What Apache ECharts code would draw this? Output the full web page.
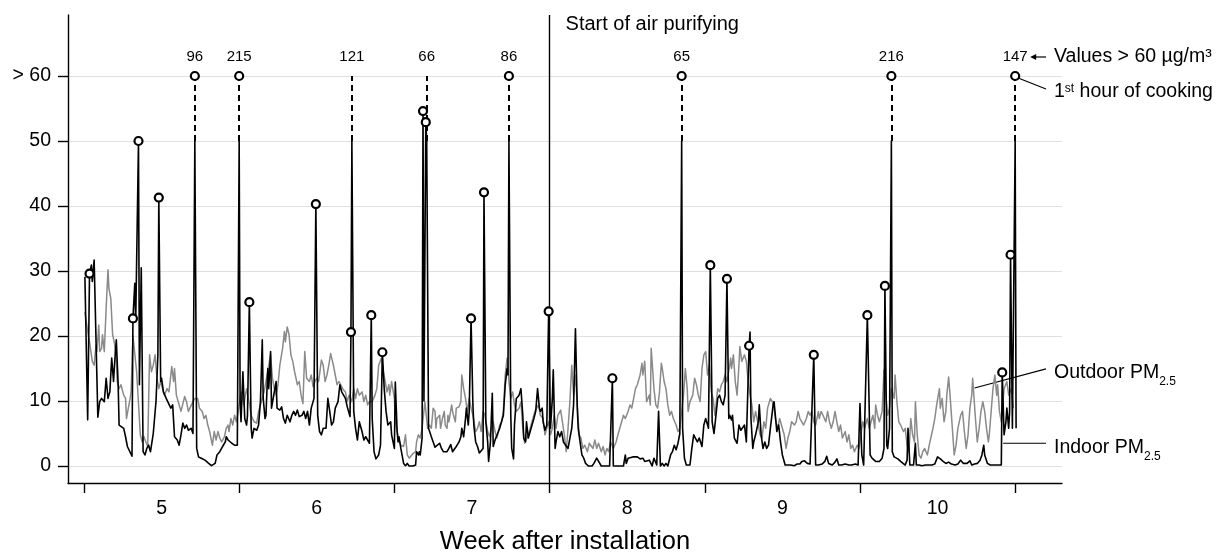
<!DOCTYPE html>
<html><head><meta charset="utf-8">
<script src="https://cdn.jsdelivr.net/npm/echarts@6/dist/echarts.min.js"></script>
<style>html,body{margin:0;padding:0;background:#fff}#c{width:1225px;height:552px}</style>
</head><body><div id="c"></div>
<script>
// x unit: hours since the start of week 5
const weekLabels = [5, 6, 7, 8, 9, 10];
const weekBoundaryHours = [0, 168, 336, 504, 672, 840, 1008];
const yTickValues = [0, 10, 20, 30, 40, 50, 60];
const purifierStartHour = 504;

// indoor PM2.5 [hour, µg/m³] (true values; >60 drawn on the broken scale)
const indoorPM25 = [
[1,29.1],[4,7.1],[6,29.6],[8,30.9],[9,28.4],[11,31.7],[15,7.5],[17,9.9],[19,10.4],[22,9.9],[24,13.5],[26,10.4],[28,11.4],[30,16.6],[32,13],[33,15.5],[35,19.4],[37,12.5],[38,6.3],[40,6.6],[43,5.8],[45,4.5],[47,3.0],[49,3.3],[52,1.5],[53,22.7],[55,28.1],[56,22.2],[59,50],[60,12.5],[62,30.5],[64,2.2],[66,1.7],[68,2.7],[70,3.2],[72,2.2],[75,5],[78,10],[80,17],[81,41.3],[83,13],[84,13.5],[86,11.4],[89,10.4],[91,10.7],[94,8.9],[96,9.4],[98,4.5],[101,4.0],[103,3.2],[105,4.8],[107,6.6],[109,5.8],[111,6.3],[113,5.5],[116,5.8],[118,5.0],[120,96],[122,2.7],[124,1.4],[127,1.2],[131,0.9],[135,0.4],[138,0.05],[142,0.4],[144,1.7],[147,2.2],[150,3.0],[153,3.7],[154,4.5],[156,4.0],[160,3.5],[163,3.2],[166,3.2],[168,215],[169,9.9],[170,6.8],[172,14.5],[174,7.3],[176,6.3],[177,7.8],[179,25.2],[181,5.8],[182,4.3],[184,5.8],[187,5.5],[189,6.3],[191,9.9],[193,19.4],[194,10.4],[196,7.3],[197,7.8],[199,15.0],[200,11.9],[202,17.6],[203,8.9],[205,8.9],[208,13.0],[209,8.9],[212,8.6],[214,9.1],[216,7.3],[218,6.6],[220,7.8],[223,6.8],[225,7.8],[227,8.4],[229,7.8],[231,8.6],[233,7.6],[236,7.8],[238,8.4],[240,7.3],[242,8.4],[244,6.3],[246,8.9],[249,10.4],[251,40.3],[253,7.8],[255,5.3],[257,4.8],[259,5.8],[262,5.8],[264,10.4],[266,8.4],[268,6.3],[270,6.8],[272,8.9],[275,9.9],[277,12.5],[279,11.4],[281,11.4],[283,10.4],[285,9.1],[288,7.6],[289,20.6],[290,121],[292,8.4],[294,5.8],[296,4.0],[298,6.8],[301,5.3],[303,4.0],[305,4.5],[307,4.0],[309,3.5],[311,23.2],[312,7.3],[314,2.2],[316,1.1],[319,1.7],[321,3.2],[323,17.5],[325,11.9],[327,8.4],[329,6.3],[332,6.8],[333,4.8],[336,2.7],[337,12.9],[339,5.3],[340,3.7],[341,4.5],[343,2.7],[346,0.4],[348,0.05],[350,0.4],[352,0],[354,0],[356,0],[359,0.15],[360,2.2],[362,1.7],[363,2.2],[364,1.7],[366,4.3],[367,54.6],[368,10],[370,52.9],[371,66],[373,5.8],[376,4.5],[378,3.7],[380,2.9],[382,2.7],[385,3.5],[387,2.7],[389,2.2],[391,2.1],[393,2.2],[395,2.7],[397,3.3],[399,2.2],[401,2.5],[403,3.0],[406,3.7],[408,4.5],[409,5.8],[411,4.5],[413,7.3],[414,8.9],[416,6.3],[417,8.4],[419,22.7],[421,9.4],[422,6.3],[424,3.7],[426,3.0],[428,2.0],[430,2.2],[432,2.7],[433,42.1],[435,6.8],[437,3.7],[438,0.7],[440,3.7],[442,11.2],[443,3.0],[445,4.0],[447,4.3],[450,5.8],[452,5.8],[454,7.8],[456,12.5],[458,15.0],[459,14.0],[460,86],[462,7.8],[463,2.7],[465,1.1],[466,6.3],[468,10.4],[471,10.9],[473,11.9],[475,7.8],[476,4.3],[478,3.7],[479,6.8],[481,4.3],[483,5.3],[485,6.3],[487,7.3],[489,8.4],[491,11.9],[493,8.9],[494,8.4],[496,8.9],[497,6.8],[499,5.5],[501,6.3],[503,23.8],[505,5.8],[507,10.4],[508,14.8],[510,2.7],[511,3.7],[513,5.3],[515,4.5],[517,5.3],[519,3.7],[521,3.5],[524,2.7],[526,4.3],[528,5.8],[530,9.4],[532,21.1],[534,8.9],[535,5.8],[537,5.8],[539,1.7],[541,1.2],[543,0.4],[546,0],[550,0],[552,0.4],[555,1.2],[557,1.2],[560,0],[563,0],[566,0],[569,0],[571,0],[572,13.5],[573,0],[577,0],[580,0],[584,0],[586,1.7],[587,0.4],[589,1.2],[591,0.9],[594,1.4],[596,1.2],[599,1.4],[602,1.1],[605,1.2],[607,0.7],[609,0.4],[612,0.9],[615,0],[617,1.2],[620,0.15],[622,8.4],[624,0],[626,0.4],[628,0],[630,0.4],[632,0],[635,1.7],[637,2.2],[639,3.2],[641,2.5],[643,3.5],[645,5.0],[647,65],[648,5.8],[650,1.2],[652,0.15],[654,0],[656,0.15],[658,2.7],[660,4.8],[662,4.8],[664,3.7],[666,4.3],[669,3.0],[671,6.3],[673,7.3],[676,5.8],[678,30.9],[680,6.8],[682,5.0],[683,6.3],[686,10.4],[688,10.9],[690,9.9],[692,9.4],[694,10.9],[696,28.8],[698,7.3],[699,7.8],[701,7.1],[702,7.8],[704,4.3],[707,3.5],[709,6.3],[711,5.5],[713,5.3],[715,6.3],[717,3.7],[719,3.5],[720,18.5],[721,20.6],[722,7.3],[724,2.7],[725,3.7],[727,4.8],[730,6.8],[731,9.4],[733,4.8],[735,2.7],[737,3.7],[739,2.7],[741,3.2],[743,5.8],[746,9.4],[747,9.9],[748,8.4],[750,5.3],[752,6.3],[754,3.7],[756,1.7],[759,0.15],[761,0],[765,0.15],[769,0.05],[772,0.3],[775,0.3],[777,0.7],[780,0.8],[783,0.4],[786,0.3],[788,0.15],[790,17.1],[792,0.15],[795,0.15],[799,0.3],[802,0.7],[804,1.5],[806,0.4],[810,0.15],[813,0.6],[815,1.1],[817,0.15],[820,0.15],[824,0.3],[828,0.15],[831,0.15],[835,0.3],[838,0.15],[839,0.4],[840,9.6],[842,1.7],[844,0.15],[846,0.15],[848,23.2],[851,1.7],[853,1.2],[855,0.9],[857,0.7],[859,0.4],[861,0.7],[864,1.2],[866,2.7],[867,27.7],[869,3.2],[870,2.7],[872,5.8],[874,216],[875,2.2],[877,1.4],[879,1.2],[881,1.1],[884,0.7],[886,0.4],[889,0.15],[891,0.9],[892,5.8],[894,0.15],[896,0.4],[898,0.15],[900,3.5],[901,0.15],[904,0.15],[907,0.05],[911,0.15],[915,0.15],[918,0.15],[921,0.3],[924,1.4],[927,1.1],[930,0.7],[933,0.4],[936,0.6],[939,0.3],[943,0.15],[946,0.3],[949,0.9],[952,0.4],[954,0.15],[956,0.4],[959,0.8],[961,0.15],[964,0.3],[967,0.4],[970,0.9],[972,1.7],[974,3.2],[975,1.7],[978,0.4],[981,0.15],[985,0.15],[989,0.15],[993,0.15],[994,14.4],[996,4.8],[998,6.8],[999,8.9],[1001,5.8],[1002,8.4],[1003,32.5],[1005,5.8],[1008,147],[1009,5.8]
];

// outdoor PM2.5 [hour, µg/m³]
const outdoorPM25 = [
[1,23.7],[4,20.7],[6,19.1],[9,16.1],[11,15.5],[13,18.6],[14,17.6],[16,21.7],[17,17.6],[19,18.1],[20,20.2],[22,17.6],[24,24.3],[26,30.2],[27,27.3],[29,25.8],[31,20.2],[33,18.9],[35,16.1],[36,13.0],[38,11.9],[40,12.5],[43,10.9],[45,10.4],[46,7.3],[48,8.9],[50,10.4],[51,11.4],[53,20],[57,14.5],[61,4.8],[63,3.7],[65,4.5],[67,3.7],[69,3.0],[71,17.1],[73,14.5],[75,15.5],[77,17.1],[79,13.5],[81,11.9],[83,13.0],[85,11.9],[87,10.9],[90,11.9],[92,11.4],[94,14.0],[95,15.3],[97,13.0],[98,15.0],[100,10.9],[102,9.9],[105,8.4],[107,8.4],[109,10.7],[111,9.9],[113,8.4],[115,8.4],[118,9.9],[120,10.4],[123,10.4],[125,8.9],[128,8.4],[130,7.3],[132,7.8],[134,6.3],[136,5.3],[139,3.2],[141,5.3],[143,4.0],[145,5.3],[147,4.3],[149,3.7],[152,4.5],[154,5.8],[156,6.3],[157,5.3],[159,7.3],[161,6.3],[163,7.8],[165,6.8],[167,8.4],[170,11.4],[173,9.4],[176,11.9],[178,10.4],[181,7.8],[184,6.8],[187,6.6],[189,8.4],[192,9.9],[195,11.4],[197,13.0],[200,15.5],[202,17.1],[204,13.5],[206,11.9],[208,10.9],[210,12.5],[212,15.5],[215,18.1],[217,20.7],[218,19.1],[220,21.4],[222,20.2],[224,17.1],[226,16.1],[228,14.5],[231,12.5],[233,13.0],[235,10.9],[237,9.6],[239,17.6],[241,13.5],[244,13.0],[246,14.0],[248,12.2],[250,13.0],[252,13.5],[254,13.0],[257,16.3],[259,15.5],[261,13.0],[263,14.0],[265,15.5],[267,17.3],[270,15.5],[272,14.0],[274,12.5],[276,13.0],[278,12.5],[280,11.9],[283,11.4],[285,9.9],[287,10.9],[290,9.9],[292,11.9],[294,10.4],[296,11.9],[298,10.9],[301,11.4],[303,9.9],[305,10.9],[307,9.4],[309,9.9],[312,9.9],[315,10.9],[317,11.9],[319,15.5],[322,16.6],[324,14.5],[326,13.0],[328,11.4],[330,12.5],[331,10.9],[333,13.0],[336,10.4],[337,6.8],[339,5.3],[341,4.0],[343,3.2],[346,3.0],[348,4.8],[350,1.7],[352,1.2],[354,1.4],[356,1.9],[359,2.2],[360,3.7],[362,4.8],[364,4.3],[366,5.8],[369,9.9],[372,5.8],[374,6.3],[376,5.8],[378,8.9],[380,8.4],[381,5.8],[382,7.3],[385,7.8],[386,5.8],[388,7.3],[390,8.4],[391,6.3],[393,5.8],[394,7.8],[395,6.8],[398,9.4],[399,8.4],[400,7.8],[402,6.8],[403,8.9],[406,9.1],[408,9.9],[409,14.0],[411,11.9],[413,10.4],[415,8.4],[417,10.4],[419,8.9],[421,7.8],[424,5.3],[426,5.8],[428,6.8],[430,5.3],[432,8.4],[434,7.8],[437,5.3],[439,4.5],[441,5.8],[443,6.8],[445,5.3],[447,4.3],[450,6.3],[452,6.8],[454,8.4],[456,14.0],[458,16.6],[460,13.0],[462,10.4],[464,11.4],[466,9.4],[468,8.4],[471,8.9],[473,9.9],[475,5.8],[477,3.5],[479,3.7],[481,4.8],[484,6.3],[486,7.3],[488,8.4],[490,8.4],[492,9.4],[494,7.8],[497,7.3],[499,4.8],[501,5.8],[503,6.8],[505,4.8],[507,5.8],[509,7.8],[511,5.8],[513,7.8],[516,8.6],[518,8.4],[520,4.8],[522,2.2],[524,5.8],[526,9.9],[528,15.5],[530,10.9],[532,14.0],[534,9.4],[536,4.8],[538,4.3],[540,2.7],[542,3.2],[545,2.2],[547,3.5],[549,3.7],[551,2.7],[553,4.0],[555,2.7],[557,3.5],[560,2.2],[562,3.0],[564,1.7],[566,2.7],[568,2.2],[570,3.7],[573,2.7],[576,3.7],[578,4.8],[580,5.8],[582,6.8],[584,7.8],[586,7.3],[589,8.4],[591,9.4],[593,8.9],[595,10.4],[597,11.9],[599,12.5],[602,14.0],[604,15.8],[605,14.0],[607,16.1],[608,13.0],[609,9.9],[612,10.9],[613,9.4],[614,18.1],[617,11.9],[619,9.4],[621,8.9],[623,11.4],[625,15.8],[626,15.0],[628,13.0],[630,11.9],[632,9.4],[634,7.8],[636,8.4],[638,7.3],[641,6.3],[643,5.3],[645,5.8],[647,8.4],[649,10.9],[651,15.0],[653,11.9],[654,8.4],[656,9.9],[659,10.9],[661,13.5],[663,12.5],[665,10.9],[667,9.9],[669,15.0],[671,17.1],[673,17.6],[675,14.0],[677,15.5],[679,11.4],[681,10.4],[683,7.8],[686,11.9],[688,11.4],[690,12.5],[692,13.0],[694,14.0],[696,13.0],[699,15.5],[700,16.6],[701,15.0],[703,17.1],[705,13.0],[707,10.9],[709,15.5],[710,18.4],[712,16.1],[715,17.1],[717,16.1],[719,13.0],[721,10.9],[723,9.4],[725,6.8],[727,8.4],[730,6.3],[732,4.8],[734,4.3],[736,6.8],[738,5.8],[740,8.9],[743,10.4],[745,9.9],[747,8.9],[749,6.8],[751,5.8],[753,7.3],[756,5.8],[758,4.8],[760,2.7],[762,4.3],[764,5.3],[766,6.8],[769,6.3],[771,6.8],[773,8.4],[775,7.3],[777,6.8],[779,6.3],[782,7.3],[784,8.4],[786,7.8],[788,8.4],[790,6.8],[792,6.3],[795,8.4],[796,7.3],[798,8.4],[800,7.8],[803,6.8],[805,8.4],[807,6.8],[809,5.8],[811,6.8],[813,8.4],[815,6.8],[817,5.3],[819,6.3],[821,4.3],[824,5.3],[826,3.7],[828,4.8],[830,2.7],[832,3.2],[834,2.2],[837,3.2],[839,2.7],[841,4.8],[843,6.8],[845,5.8],[848,7.3],[850,5.8],[852,6.8],[854,7.8],[856,5.8],[857,9.4],[859,7.8],[861,6.8],[864,8.4],[866,14.8],[868,10.9],[870,7.8],[872,8.9],[874,11.9],[877,10.4],[878,14.0],[880,9.9],[882,6.8],[884,6.3],[887,5.3],[889,5.8],[891,3.2],[893,2.2],[895,7.3],[897,4.8],[899,3.7],[900,9.9],[902,4.8],[904,1.7],[906,1.2],[908,2.2],[910,2.7],[913,1.7],[915,3.2],[917,4.5],[919,5.8],[921,7.3],[923,9.4],[926,11.9],[927,8.9],[929,10.4],[931,6.8],[933,8.4],[934,10.9],[936,13.7],[938,9.9],[940,5.8],[942,1.7],[944,3.2],[946,5.8],[949,7.8],[951,8.4],[953,5.3],[955,2.7],[957,4.8],[959,8.9],[961,10.9],[962,13.5],[965,7.3],[967,3.7],[969,5.8],[971,8.4],[973,9.9],[975,8.4],[977,5.8],[979,3.7],[980,4.8],[982,8.4],[984,11.9],[986,14.0],[988,10.9],[989,12.5],[991,8.4],[993,6.8],[996,11.9],[999,13.0],[1001,10.9],[1004,11.9],[1006,8.9]
];

// hours that are the 1st hour of cooking
const cookingStartHours = [6,53,59,81,120,168,179,251,289,311,323,367,370,419,433,460,503,572,647,678,696,720,790,848,867,874,994,1003,1008];

const CAP = 60;      // values above are shown at "> 60"
const BREAK = 50;    // solid part ends here, dashed from BREAK to CAP

const FONT = '"Liberation Sans", Arial, Helvetica, sans-serif';
const indoorMap = new Map(indoorPM25.map(d => [d[0], d[1]]));
const indoorDrawn = indoorPM25.map(([h, v]) => [h, v > CAP ? BREAK : v]);
const over60 = indoorPM25.filter(d => d[1] > CAP);
const cookingPts = cookingStartHours.map(h => [h, Math.min(indoorMap.get(h), CAP)]);
const weekLabelHours = weekBoundaryHours.slice(0, -1).map((h, i) => (h + weekBoundaryHours[i + 1]) / 2);

const chart = echarts.init(document.getElementById('c'), null, { renderer: 'canvas' });
const option = {
  animation: false,
  backgroundColor: '#fff',
  textStyle: { fontFamily: FONT, color: '#000' },
  grid: { left: 68, right: 163, top: 15, bottom: 69, containLabel: false, outerBoundsMode: 'none' },
  xAxis: {
    type: 'value', min: -17.3, max: 1058.7,
    axisLine: { show: true, onZero: false, lineStyle: { color: '#000', width: 1.4 } },
    axisTick: { show: true, length: 10, customValues: weekBoundaryHours, lineStyle: { color: '#000', width: 1.4 } },
    axisLabel: { customValues: weekLabelHours, margin: 16, fontSize: 19.5, color: '#000', fontFamily: FONT,
      formatter: v => String(weekLabels[weekLabelHours.indexOf(v)]) },
    splitLine: { show: false },
    name: 'Week after installation', nameLocation: 'middle', nameGap: 46,
    nameTextStyle: { fontSize: 25.5, color: '#000', fontFamily: FONT }
  },
  yAxis: {
    type: 'value', min: -2.615, max: 69.385,
    axisLine: { show: true, onZero: false, lineStyle: { color: '#000', width: 1.4 } },
    axisTick: { show: true, length: 10, customValues: yTickValues, lineStyle: { color: '#000', width: 1.4 } },
    axisLabel: { customValues: yTickValues, margin: 17, fontSize: 19.5, color: '#000', fontFamily: FONT,
      formatter: v => (v === CAP ? '> ' + v : String(v)) },
    splitLine: { show: true, lineStyle: { color: '#e0e0e0', width: 1 } }
  },
  series: [
    {
      name: 'Outdoor PM2.5', type: 'line', data: outdoorPM25, showSymbol: false, z: 2,
      lineStyle: { color: '#8a8a8a', width: 1.5, join: 'round' },
      markLine: { silent: true, symbol: ['none', 'none'], label: { show: false },
        lineStyle: { color: '#000', width: 1.4, type: 'solid' },
        data: [{ xAxis: purifierStartHour }] }
    },
    {
      name: 'Indoor PM2.5', type: 'line', data: indoorDrawn, showSymbol: false, z: 3,
      lineStyle: { color: '#000', width: 1.6, join: 'round' },
      markLine: { silent: true, symbol: ['none', 'none'], label: { show: false },
        lineStyle: { color: '#000', width: 2, type: [6, 4] },
        data: over60.map(([h]) => [{ coord: [h, BREAK] }, { coord: [h, CAP] }]) }
    },
    {
      name: '1st hour of cooking', type: 'scatter', data: cookingPts, z: 5,
      symbol: 'circle', symbolSize: 8,
      itemStyle: { color: '#fff', borderColor: '#000', borderWidth: 2.2, opacity: 1 }
    },
    {
      name: 'Values > 60', type: 'scatter', data: over60.map(([h, v]) => [h, CAP, v]), z: 6,
      symbol: 'circle', symbolSize: 1, itemStyle: { color: 'rgba(0,0,0,0)' },
      label: { show: true, position: 'top', distance: 11, fontSize: 15, color: '#000', opacity: 1,
        textBorderWidth: 0, fontFamily: FONT, formatter: p => String(p.value[2]) }
    }
  ]
};
chart.setOption(option);

// annotations anchored to data coordinates
const P = (h, v) => chart.convertToPixel({ gridIndex: 0 }, [h, v]);
const gridRight = P(option.xAxis.max, 0)[0];
const lineEndX = gridRight - 16;
const textX = gridRight - 8;
const capY = P(0, CAP)[1];
const labelY = capY - 19;
const lastPeak = over60[over60.length - 1];
const lastPeakPx = P(lastPeak[0], CAP);
const outdoorAnchor = P(964, 12);
const outdoorLabelY = P(0, 14.8)[1];
const indoorAnchor = P(995, 3.5);
const indoorLabelY = P(0, 3.2)[1];
const lineStyle = { stroke: '#000', lineWidth: 1.2 };
const txt = (x, y, text, size, rich) => ({
  type: 'text', x, y, silent: true,
  style: Object.assign({ text, fill: '#000', fontSize: size, fontFamily: FONT, textAlign: 'left', textVerticalAlign: 'middle' },
    rich ? { rich } : {})
});
const subRich = {
  a: { fontSize: 19.5, fontFamily: FONT, lineHeight: 30, fill: '#000', color: '#000' },
  b: { fontSize: 12, fontFamily: FONT, lineHeight: 12, verticalAlign: 'bottom', fill: '#000', color: '#000' }
};
const supRich = {
  a: { fontSize: 19.5, fontFamily: FONT, lineHeight: 30, fill: '#000', color: '#000' },
  b: { fontSize: 12, fontFamily: FONT, lineHeight: 12, verticalAlign: 'middle', padding: [0, 0, 7, 0], fill: '#000', color: '#000' }
};
const arrowHeadX = lastPeakPx[0] + 15;
chart.setOption({
  graphic: [
    txt(P(purifierStartHour, 0)[0] + 16, P(0, 67.9)[1], 'Start of air purifying', 20),
    txt(textX, labelY, 'Values > 60 µg/m³', 19.5),
    { type: 'line', silent: true, shape: { x1: lineEndX, y1: labelY, x2: arrowHeadX + 5, y2: labelY }, style: lineStyle },
    { type: 'polygon', silent: true, shape: { points: [[arrowHeadX, labelY], [arrowHeadX + 6, labelY - 3], [arrowHeadX + 6, labelY + 3]] }, style: { fill: '#000' } },
    txt(textX, capY + 16, '{a|1}{b|st}{a| hour of cooking}', 19.5, supRich),
    { type: 'line', silent: true, shape: { x1: lastPeakPx[0] + 3, y1: lastPeakPx[1] + 2, x2: lineEndX, y2: capY + 13 }, style: lineStyle },
    txt(textX, outdoorLabelY + 3, '{a|Outdoor PM}{b|2.5}', 19.5, subRich),
    { type: 'line', silent: true, shape: { x1: outdoorAnchor[0], y1: outdoorAnchor[1], x2: lineEndX, y2: outdoorLabelY - 1 }, style: lineStyle },
    txt(textX, indoorLabelY + 2, '{a|Indoor PM}{b|2.5}', 19.5, subRich),
    { type: 'line', silent: true, shape: { x1: indoorAnchor[0], y1: indoorAnchor[1], x2: lineEndX, y2: indoorAnchor[1] }, style: lineStyle }
  ]
});
</script>
</body></html>
